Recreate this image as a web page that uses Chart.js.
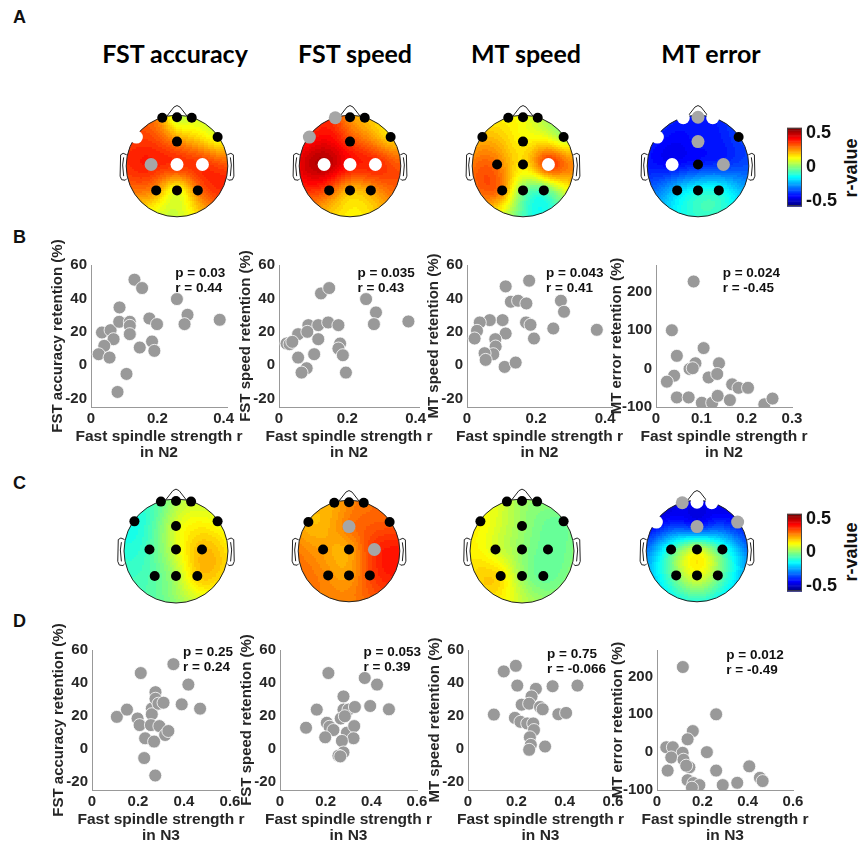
<!DOCTYPE html>
<html>
<head>
<meta charset="utf-8">
<script src="https://cdn.jsdelivr.net/npm/chart.js@4.4.1/dist/chart.umd.min.js"></script>
<style>
  body { margin: 0; background: #fff; width: 860px; height: 844px; position: relative; overflow: hidden; }
  canvas { position: absolute; }
  .txt { position: absolute; font-family: "Liberation Sans", Arial, sans-serif; font-weight: bold; color: #111; white-space: nowrap; }
  .letter { font-size: 18px; line-height: 18px; }
  .title { font-family: Lato, "Open Sans", sans-serif; font-size: 25px; line-height: 24px; width: 220px; text-align: center; color: #000; }
  .cblab { font-size: 18px; line-height: 18px; transform: translate(-50%, -50%) rotate(-90deg); }
</style>
</head>
<body>
<div class="txt letter" style="left:13px;top:8px">A</div>
<div class="txt letter" style="left:13px;top:228px">B</div>
<div class="txt letter" style="left:13px;top:474px">C</div>
<div class="txt letter" style="left:13px;top:612px">D</div>
<div class="txt title" style="left:65px;top:41px">FST accuracy</div>
<div class="txt title" style="left:245px;top:41px">FST speed</div>
<div class="txt title" style="left:416px;top:41px">MT speed</div>
<div class="txt title" style="left:601px;top:41px">MT error</div>
<div class="txt cblab" style="left:851px;top:168px">r-value</div>
<div class="txt cblab" style="left:851px;top:552px">r-value</div>
<script>
Chart.defaults.font.family = '"Liberation Sans", Arial, sans-serif';
Chart.defaults.color = '#262626';

// electrode montage, head radius = 1, nose up
// order: Fp1 Fpz Fp2 F7 F8 Fz C3 Cz C4 P3 Pz P4
const elecX = [-0.29, 0, 0.29, -0.8, 0.8, 0, -0.51, 0, 0.5, -0.41, 0, 0.41];
const elecY = [0.95, 0.96, 0.95, 0.57, 0.57, 0.48, 0.03, 0.03, 0.03, -0.48, -0.48, -0.48];

// r-values per electrode (spindle strength vs. retention)
const rN2FstAcc = [0.24, 0.08, 0.10, 0.36, 0.12, 0.28, 0.40, 0.38, 0.38, 0.26, 0.12, 0.30];
const rN2FstSpd = [0.36, 0.26, 0.22, 0.40, 0.18, 0.36, 0.52, 0.42, 0.40, 0.33, 0.22, 0.25];
const rN2MtSpd  = [0.15, 0.13, 0.08, 0.22, 0.05, 0.15, 0.30, 0.17, 0.38, 0.28, 0.00, -0.05];
const rN2MtErr  = [-0.40, -0.40, -0.40, -0.40, -0.36, -0.41, -0.43, -0.40, -0.38, -0.20, -0.13, -0.12];
const rN3FstAcc = [-0.03, 0.05, 0.08, -0.12, 0.12, 0.10, -0.06, 0.10, 0.22, -0.04, 0.05, 0.20];
const rN3FstSpd = [0.24, 0.28, 0.30, 0.22, 0.33, 0.30, 0.25, 0.24, 0.38, 0.27, 0.25, 0.35];
const rN3MtSpd  = [0.08, 0.03, 0.02, 0.15, -0.02, 0.03, 0.10, 0.02, -0.03, 0.18, 0.03, -0.03];
const rN3MtErr  = [-0.45, -0.45, -0.45, -0.45, -0.42, -0.40, -0.08, 0.10, -0.08, 0.00, 0.12, 0.00];

// electrode marker: 0 = black, 1 = gray, 2 = white
const sigN2FstAcc = [0, 0, 0, 2, 0, 0, 1, 2, 2, 0, 0, 0];
const sigN2FstSpd = [1, 0, 0, 1, 0, 0, 2, 2, 2, 0, 0, 0];
const sigN2MtSpd  = [0, 0, 0, 0, 0, 0, 0, 0, 2, 0, 0, 0];
const sigN2MtErr  = [2, 1, 2, 2, 0, 1, 2, 0, 1, 0, 0, 0];
const sigN3FstAcc = [0, 0, 0, 0, 0, 0, 0, 0, 0, 0, 0, 0];
const sigN3FstSpd = [0, 0, 0, 0, 0, 1, 0, 0, 1, 0, 0, 0];
const sigN3MtSpd  = [0, 0, 0, 0, 0, 0, 0, 0, 0, 0, 0, 0];
const sigN3MtErr  = [1, 2, 2, 2, 1, 1, 0, 0, 0, 0, 0, 0];

// colour scale
const cbarMin = -0.575, cbarMax = 0.575;
const cbarTicks = [-0.5, 0, 0.5];

// scatter data: fast spindle strength r (x) vs retention (y)
const n2FstAccX = [0.131, 0.154, 0.086, 0.259, 0.291, 0.282, 0.388, 0.033, 0.059, 0.085, 0.117, 0.117, 0.117, 0.068, 0.040, 0.023, 0.056, 0.147, 0.176, 0.199, 0.184, 0.191, 0.107, 0.080];
const n2FstAccY = [51.2, 46.2, 34.6, 39.6, 30.2, 24.6, 27.2, 19.6, 21, 26, 26, 23.6, 18.6, 15.6, 11.6, 6.6, 4.6, 10.6, 28, 24.6, 14.2, 8.6, -5.2, -16];
const n2FstSpdX = [0.123, 0.147, 0.255, 0.284, 0.278, 0.379, 0.086, 0.115, 0.144, 0.174, 0.056, 0.083, 0.115, 0.022, 0.031, 0.039, 0.179, 0.174, 0.187, 0.056, 0.103, 0.081, 0.066, 0.196];
const n2FstSpdY = [43, 46.2, 39.6, 31.6, 24.6, 26.2, 24, 24, 25.6, 24, 18.6, 20, 15.6, 13, 12.6, 14, 13, 10, 6, 4.6, 6.6, -1.8, -4.4, -4.4];
const n2MtSpdX = [0.112, 0.180, 0.127, 0.148, 0.172, 0.272, 0.281, 0.250, 0.376, 0.171, 0.184, 0.194, 0.103, 0.066, 0.037, 0.029, 0.022, 0.112, 0.082, 0.083, 0.076, 0.051, 0.054, 0.109, 0.141];
const n2MtSpdY = [47.2, 50.6, 38, 38.6, 37, 38.6, 32, 22, 21.2, 25.6, 24.2, 16, 27, 27, 25.6, 20.6, 16, 19, 15.6, 11.2, 6.6, 7.2, 3.2, -1, 1.6];
const n2MtErrX = [0.083, 0.035, 0.105, 0.046, 0.087, 0.074, 0.081, 0.139, 0.116, 0.135, 0.040, 0.024, 0.046, 0.072, 0.101, 0.124, 0.136, 0.163, 0.168, 0.182, 0.203, 0.239, 0.257];
const n2MtErrY = [227, 100, 53.5, 33.3, 14, -1, 1, 14, -23, -14, -18.4, -34, -75, -75, -89, -89, -71, -82, -41, -50, -50, -93, -78];
const n3FstAccX = [0.354, 0.212, 0.419, 0.390, 0.470, 0.108, 0.152, 0.198, 0.207, 0.260, 0.260, 0.276, 0.276, 0.289, 0.311, 0.256, 0.293, 0.318, 0.332, 0.231, 0.270, 0.227, 0.275];
const n3FstAccY = [51.4, 46, 39, 27, 24.4, 19.4, 23.8, 18.4, 14.4, 24.4, 21, 34.4, 30.4, 27.4, 28, 14.4, 13.8, 8.4, 10.8, 6.4, 4.4, -5.6, -16.2];
const n3FstSpdX = [0.212, 0.371, 0.425, 0.395, 0.477, 0.114, 0.161, 0.205, 0.217, 0.234, 0.198, 0.278, 0.278, 0.300, 0.328, 0.266, 0.284, 0.293, 0.325, 0.322, 0.271, 0.278, 0.256, 0.264];
const n3FstSpdY = [46, 43, 39, 26, 24, 12.8, 23.8, 15.8, 13.4, 11.4, 7, 31.8, 23.8, 23.8, 25.4, 18.4, 19.8, 9.8, 13.8, 6.4, 4.8, -2.2, -4.2, -4.6];
const n3MtSpdX = [0.198, 0.148, 0.204, 0.350, 0.453, 0.281, 0.263, 0.222, 0.253, 0.298, 0.309, 0.107, 0.194, 0.217, 0.245, 0.270, 0.273, 0.256, 0.260, 0.253, 0.319, 0.374, 0.406];
const n3MtSpdY = [50.4, 47, 38.4, 38, 38.4, 36.4, 31.8, 26.8, 27.4, 25.4, 24, 20.8, 18.8, 16.4, 15.4, 15.4, 11.4, 7, 2.4, -0.6, 1.4, 21, 21.8];
const n3MtErrX = [0.114, 0.261, 0.158, 0.135, 0.041, 0.070, 0.113, 0.220, 0.063, 0.117, 0.143, 0.129, 0.047, 0.261, 0.407, 0.135, 0.161, 0.187, 0.290, 0.354, 0.454, 0.466, 0.154];
const n3MtErrY = [225, 100, 55.7, 34, 13, 13, -1.7, 0, -14, -20, -40, -35.7, -48.7, -48.7, -37.4, -74, -81.7, -87, -87, -81, -67.8, -76.5, -94];

// axis ticks
const xTicksN2 = [0, 0.2, 0.4];
const xTicksN2Err = [0, 0.1, 0.2, 0.3];
const xTicksN3 = [0, 0.2, 0.4, 0.6];
const yTicksPct = [-20, 0, 20, 40, 60];
const yTicksErr = [-100, 0, 100, 200];

// correlation stats printed in each panel
const statP = ['0.03', '0.035', '0.043', '0.024', '0.25', '0.053', '0.75', '0.012'];
const statR = ['0.44', '0.43', '0.41', '-0.45', '0.24', '0.39', '-0.066', '-0.49'];

function jet(v) {
  let t = (v - cbarMin) / (cbarMax - cbarMin);
  t = Math.round(Math.min(1, Math.max(0, t)) * 63) / 63;
  const c = u => Math.round(255 * Math.min(1, Math.max(0, u)));
  return 'rgb(' + c(1.5 - Math.abs(4 * t - 3)) + ',' + c(1.5 - Math.abs(4 * t - 2)) + ',' + c(1.5 - Math.abs(4 * t - 1)) + ')';
}

// biharmonic spline interpolation (same idea as griddata 'v4')
function biharmonic(xs, ys, vs) {
  const n = xs.length;
  const green = d => d > 0 ? d * d * (Math.log(d) - 1) : 0;
  const A = xs.map((x, i) => xs.map((x2, j) => green(Math.hypot(x - x2, ys[i] - ys[j]))).concat([vs[i]]));
  for (let k = 0; k < n; k++) {
    let p = k;
    for (let i = k + 1; i < n; i++) if (Math.abs(A[i][k]) > Math.abs(A[p][k])) p = i;
    [A[k], A[p]] = [A[p], A[k]];
    for (let i = k + 1; i < n; i++) {
      const f = A[i][k] / A[k][k];
      for (let j = k; j <= n; j++) A[i][j] -= f * A[k][j];
    }
  }
  const w = new Array(n).fill(0);
  for (let i = n - 1; i >= 0; i--) {
    let s = A[i][n];
    for (let j = i + 1; j < n; j++) s -= A[i][j] * w[j];
    w[i] = s / A[i][i];
  }
  return (x, y) => {
    let s = 0;
    for (let j = 0; j < n; j++) s += w[j] * green(Math.hypot(x - xs[j], y - ys[j]));
    return s;
  };
}

function addCanvas(left, top, w, h) {
  const c = document.createElement('canvas');
  c.width = w; c.height = h;
  c.style.left = left + 'px'; c.style.top = top + 'px';
  c.style.width = w + 'px'; c.style.height = h + 'px';
  document.body.appendChild(c);
  return c;
}

// ---------- topoplots ----------
function topoPlugin(vals) {
  const f = biharmonic(elecX, elecY, vals);
  return {
    id: 'topo',
    beforeDatasetsDraw(chart) {
      const ctx = chart.ctx, sx = chart.scales.x, sy = chart.scales.y;
      const px = v => sx.getPixelForValue(v), py = v => sy.getPixelForValue(v);
      const cx = px(0), cy = py(0), R = px(1) - cx;
      ctx.save();
      ctx.beginPath(); ctx.arc(cx, cy, R, 0, 2 * Math.PI); ctx.clip();
      const step = 2;
      for (let y = Math.floor(cy - R); y < cy + R; y += step) {
        for (let x = Math.floor(cx - R); x < cx + R; x += step) {
          const ux = sx.getValueForPixel(x + step / 2), uy = sy.getValueForPixel(y + step / 2);
          if (ux * ux + uy * uy > 1.1) continue;
          ctx.fillStyle = jet(f(ux, uy));
          ctx.fillRect(x, y, step, step);
        }
      }
      ctx.restore();
      // head outline, nose, ears
      ctx.save();
      ctx.strokeStyle = '#222'; ctx.lineWidth = 1;
      ctx.beginPath(); ctx.arc(cx, cy, R, 0, 2 * Math.PI); ctx.stroke();
      const line = pts => {
        ctx.beginPath();
        pts.forEach((p, i) => i ? ctx.lineTo(px(p[0]), py(p[1])) : ctx.moveTo(px(p[0]), py(p[1])));
        ctx.stroke();
      };
      line([[-0.2, 0.98], [-0.06, 1.16], [0, 1.19], [0.06, 1.16], [0.2, 0.98]]);
      [-1, 1].forEach(s => {
        line([[s * 0.99, 0.22], [s * 1.06, 0.25], [s * 1.11, 0.22], [s * 1.12, -0.2], [s * 1.09, -0.27], [s * 1.02, -0.28], [s * 0.99, -0.25]]);
        line([[s * 1.05, 0.17], [s * 1.07, 0.02], [s * 1.05, -0.2]]);
      });
      ctx.restore();
    }
  };
}

function topoplot(cx, cy, vals, sig) {
  const size = 140;
  const cv = addCanvas(cx - size / 2, cy - size / 2, size, size);
  const fill = ['#000000', '#a6a6a6', '#ffffff'];
  new Chart(cv, {
    type: 'scatter',
    data: {
      datasets: [{
        data: elecX.map((x, i) => ({ x: x, y: elecY[i] })),
        pointBackgroundColor: sig.map(s => fill[s]),
        pointBorderWidth: 0,
        pointRadius: sig.map(s => s ? 6.5 : 5),
        pointHoverRadius: sig.map(s => s ? 6.5 : 5)
      }]
    },
    options: {
      responsive: false, animation: false, events: [],
      layout: { padding: 0 },
      plugins: { legend: { display: false }, tooltip: { enabled: false } },
      scales: {
        x: { type: 'linear', min: -1.25, max: 1.25, display: false },
        y: { type: 'linear', min: -1.25, max: 1.25, display: false }
      }
    },
    plugins: [topoPlugin(vals)]
  });
}

topoplot(177, 166, rN2FstAcc, sigN2FstAcc);
topoplot(350, 166, rN2FstSpd, sigN2FstSpd);
topoplot(523, 166, rN2MtSpd, sigN2MtSpd);
topoplot(698, 166, rN2MtErr, sigN2MtErr);
topoplot(176, 551, rN3FstAcc, sigN3FstAcc);
topoplot(349, 551, rN3FstSpd, sigN3FstSpd);
topoplot(522, 551, rN3MtSpd, sigN3MtSpd);
topoplot(697, 551, rN3MtErr, sigN3MtErr);

// ---------- colour bars ----------
function colorbar(left, top, bottom) {
  const barW = 15, axW = 45, padV = 12;
  const cv = addCanvas(left, top - padV, barW + axW, bottom - top + 2 * padV);
  new Chart(cv, {
    type: 'scatter',
    data: { datasets: [] },
    options: {
      responsive: false, animation: false, events: [],
      layout: { padding: { top: padV, bottom: padV, left: 0, right: 0 } },
      plugins: { legend: { display: false }, tooltip: { enabled: false } },
      scales: {
        x: { type: 'linear', min: 0, max: 1, display: false },
        y: {
          position: 'right', min: cbarMin, max: cbarMax,
          afterBuildTicks: s => { s.ticks = cbarTicks.map(v => ({ value: v })); },
          afterFit: s => { s.width = axW; },
          grid: { display: false, drawTicks: false },
          border: { display: false },
          ticks: { font: { size: 18, weight: 'bold' }, color: '#111', padding: 4, callback: v => String(v) }
        }
      }
    },
    plugins: [{
      id: 'cbar',
      beforeDatasetsDraw(chart) {
        const ctx = chart.ctx, a = chart.chartArea, sy = chart.scales.y;
        const n = 64;
        for (let i = 0; i < n; i++) {
          const v0 = cbarMin + (cbarMax - cbarMin) * i / n, v1 = cbarMin + (cbarMax - cbarMin) * (i + 1) / n;
          ctx.fillStyle = jet((v0 + v1) / 2);
          const y0 = sy.getPixelForValue(v0), y1 = sy.getPixelForValue(v1);
          ctx.fillRect(a.left, y1, a.right - a.left, y0 - y1 + 0.5);
        }
        ctx.strokeStyle = '#444'; ctx.lineWidth = 1;
        ctx.strokeRect(a.left + 0.5, a.top + 0.5, a.right - a.left - 1, a.bottom - a.top - 1);
      }
    }]
  });
}
colorbar(787, 125, 209);
colorbar(787, 511, 594);

// ---------- scatter panels ----------
// p / r statistics and the two-line x-axis label
function textPlugin(p, r, fx, dy, stage) {
  return {
    id: 'panelText',
    afterDatasetsDraw(chart) {
      const ctx = chart.ctx, a = chart.chartArea;
      ctx.save();
      ctx.font = 'bold 13.5px "Liberation Sans", Arial, sans-serif';
      ctx.fillStyle = '#111'; ctx.textBaseline = 'middle'; ctx.textAlign = 'left';
      const x = a.left + fx * (a.right - a.left);
      ctx.fillText('p = ' + p, x, a.top + dy);
      ctx.fillText('r = ' + r, x, a.top + dy + 15);
      ctx.font = 'bold 15.5px "Liberation Sans", Arial, sans-serif';
      ctx.fillStyle = '#262626'; ctx.textAlign = 'center';
      const xc = (a.left + a.right) / 2;
      ctx.fillText('Fast spindle strength r', xc, a.bottom + 30);
      ctx.fillText('in ' + stage, xc, a.bottom + 46);
      ctx.restore();
    }
  };
}

function scatter(c) {
  const yW = c.yW, xH = 54, padT = 40, padR = 16;
  const cv = addCanvas(c.l - yW, c.t - padT, c.r - c.l + yW + padR, c.b - c.t + padT + xH);
  new Chart(cv, {
    type: 'scatter',
    data: {
      datasets: [{
        data: c.xs.map((x, i) => ({ x: x, y: c.ys[i] })),
        backgroundColor: '#999999', borderColor: '#ffffff', borderWidth: 0.8,
        pointRadius: 6.5, pointHoverRadius: 6.5
      }]
    },
    options: {
      responsive: false, animation: false, events: [],
      layout: { padding: { left: 0, top: padT, right: padR, bottom: 0 } },
      plugins: { legend: { display: false }, tooltip: { enabled: false } },
      scales: {
        x: {
          type: 'linear', min: 0, max: c.xMax,
          afterBuildTicks: s => { s.ticks = c.xTicks.map(v => ({ value: v })); },
          afterFit: s => { s.height = xH; },
          grid: { display: false, drawTicks: false },
          border: { display: true, color: '#999', width: 1 },
          ticks: { autoSkip: false, maxRotation: 0, padding: 3, color: '#262626', font: { size: 15, weight: 'bold' }, callback: v => String(v) }
        },
        y: {
          type: 'linear', min: c.yMin, max: c.yMax,
          afterBuildTicks: s => { s.ticks = c.yTicks.map(v => ({ value: v })); },
          afterFit: s => { s.width = yW; },
          grid: { display: false, drawTicks: false },
          border: { display: true, color: '#999', width: 1 },
          ticks: { autoSkip: false, padding: 4, color: '#262626', font: { size: 15, weight: 'bold' }, callback: v => String(v) },
          title: { display: true, text: c.yTitle, color: '#262626', padding: { top: 10, bottom: 0 }, font: { size: 15, weight: 'bold', lineHeight: 1.2 } }
        }
      }
    },
    plugins: [textPlugin(statP[c.k], statR[c.k], c.fx, c.dy, c.stage)]
  });
}

scatter({ k: 0, l: 91, r: 227, t: 265, b: 407, xs: n2FstAccX, ys: n2FstAccY, xMax: 0.41, xTicks: xTicksN2, yMin: -25, yMax: 60, yTicks: yTicksPct, yW: 52, yTitle: 'FST accuracy retention (%)', stage: 'N2', fx: 0.62, dy: 8 });
scatter({ k: 1, l: 279, r: 419, t: 265, b: 407, xs: n2FstSpdX, ys: n2FstSpdY, xMax: 0.41, xTicks: xTicksN2, yMin: -25, yMax: 60, yTicks: yTicksPct, yW: 52, yTitle: 'FST speed retention (%)', stage: 'N2', fx: 0.56, dy: 8 });
scatter({ k: 2, l: 467, r: 612, t: 265, b: 407, xs: n2MtSpdX, ys: n2MtSpdY, xMax: 0.42, xTicks: xTicksN2, yMin: -25, yMax: 60, yTicks: yTicksPct, yW: 52, yTitle: 'MT speed retention (%)', stage: 'N2', fx: 0.545, dy: 8 });
scatter({ k: 3, l: 656, r: 792, t: 265, b: 407, xs: n2MtErrX, ys: n2MtErrY, xMax: 0.3, xTicks: xTicksN2Err, yMin: -100, yMax: 270, yTicks: yTicksErr, yW: 58, yTitle: 'MT error retention (%)', stage: 'N2', fx: 0.49, dy: 8 });
scatter({ k: 4, l: 92, r: 230, t: 650, b: 790, xs: n3FstAccX, ys: n3FstAccY, xMax: 0.6, xTicks: xTicksN3, yMin: -25, yMax: 60, yTicks: yTicksPct, yW: 52, yTitle: 'FST accuracy retention (%)', stage: 'N3', fx: 0.66, dy: 2 });
scatter({ k: 5, l: 280, r: 417, t: 650, b: 790, xs: n3FstSpdX, ys: n3FstSpdY, xMax: 0.6, xTicks: xTicksN3, yMin: -25, yMax: 60, yTicks: yTicksPct, yW: 52, yTitle: 'FST speed retention (%)', stage: 'N3', fx: 0.61, dy: 2 });
scatter({ k: 6, l: 468, r: 613, t: 650, b: 790, xs: n3MtSpdX, ys: n3MtSpdY, xMax: 0.6, xTicks: xTicksN3, yMin: -25, yMax: 60, yTicks: yTicksPct, yW: 52, yTitle: 'MT speed retention (%)', stage: 'N3', fx: 0.545, dy: 4 });
scatter({ k: 7, l: 657, r: 793, t: 650, b: 790, xs: n3MtErrX, ys: n3MtErrY, xMax: 0.6, xTicks: xTicksN3, yMin: -100, yMax: 270, yTicks: yTicksErr, yW: 58, yTitle: 'MT error retention (%)', stage: 'N3', fx: 0.51, dy: 5 });
</script>
</body>
</html>
